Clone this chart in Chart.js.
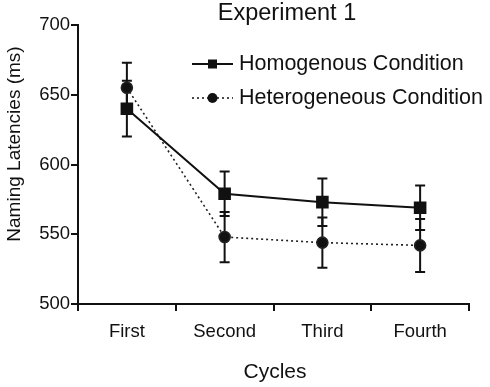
<!DOCTYPE html>
<html>
<head>
<meta charset="utf-8">
<script src="https://cdn.jsdelivr.net/npm/chart.js@4/dist/chart.umd.min.js"></script>
<style>
  body { margin: 0; background: #fff; }
  canvas { display: block; }
</style>
</head>
<body>
<canvas id="myChart" width="490" height="387"></canvas>
<script>
// values (ms)
const cycles = ['First', 'Second', 'Third', 'Fourth'];
const seriesNames = ['Homogenous Condition', 'Heterogeneous Condition'];
const homogMeans = [640, 579, 573, 569];
const homogErr = [20, 16, 17, 16];
const heteroMeans = [655, 548, 544, 542];
const heteroErr = [18, 18, 18, 19];
const yMin = 500, yMax = 700, yStep = 50;

const ink = '#111';
const font = 'Liberation Sans, Arial, sans-serif';

// error bars, drawn from the same arrays through the y scale
const errorBars = {
  id: 'errorBars',
  beforeDatasetsDraw(chart) {
    const ctx = chart.ctx;
    const y = chart.scales.y;
    const errs = [homogErr, heteroErr];
    chart.data.datasets.forEach((ds, i) => {
      const meta = chart.getDatasetMeta(i);
      meta.data.forEach((pt, j) => {
        const top = y.getPixelForValue(ds.data[j] + errs[i][j]);
        const bot = y.getPixelForValue(ds.data[j] - errs[i][j]);
        ctx.save();
        ctx.strokeStyle = ink;
        ctx.lineWidth = 2;
        ctx.beginPath();
        ctx.moveTo(pt.x, top); ctx.lineTo(pt.x, bot);
        ctx.moveTo(pt.x - 5, top); ctx.lineTo(pt.x + 5, top);
        ctx.moveTo(pt.x - 5, bot); ctx.lineTo(pt.x + 5, bot);
        ctx.stroke();
        ctx.restore();
      });
    });
  }
};

// titles and the legend inside the plot
const labelsPlugin = {
  id: 'labelsPlugin',
  afterDraw(chart) {
    const ctx = chart.ctx;
    ctx.save();
    ctx.fillStyle = ink;
    ctx.textBaseline = 'middle';

    ctx.font = '23.5px ' + font;
    ctx.textAlign = 'center';
    ctx.fillText('Experiment 1', 287, 14);

    ctx.font = '21px ' + font;
    ctx.fillText('Cycles', 275, 372);

    ctx.save();
    ctx.translate(15, 144);
    ctx.rotate(-Math.PI / 2);
    ctx.font = '19px ' + font;
    ctx.fillText('Naming Latencies (ms)', 0, 0);
    ctx.restore();

    // legend
    ctx.textAlign = 'left';
    ctx.font = '21.5px ' + font;
    ctx.strokeStyle = ink;
    ctx.lineWidth = 2;
    ctx.beginPath(); ctx.moveTo(192, 64); ctx.lineTo(233, 64); ctx.stroke();
    ctx.fillRect(208, 59.5, 9, 9);
    ctx.fillText(seriesNames[0], 239, 64);

    ctx.setLineDash([2, 3]);
    ctx.lineWidth = 1.5;
    ctx.beginPath(); ctx.moveTo(192, 98); ctx.lineTo(233, 98); ctx.stroke();
    ctx.setLineDash([]);
    ctx.beginPath(); ctx.arc(212.5, 98, 5, 0, Math.PI * 2); ctx.fill();
    ctx.fillText(seriesNames[1], 239, 98);
    ctx.restore();
  }
};

const ctx = document.getElementById('myChart');

new Chart(ctx, {
  type: 'line',
  data: {
    labels: cycles,
    datasets: [{
      label: seriesNames[0],
      data: homogMeans,
      borderColor: ink,
      backgroundColor: ink,
      borderWidth: 2,
      pointStyle: 'rect',
      pointRadius: 7.5,
      tension: 0
    }, {
      label: seriesNames[1],
      data: heteroMeans,
      borderColor: '#222',
      backgroundColor: ink,
      borderWidth: 1.6,
      borderDash: [2, 3],
      pointStyle: 'circle',
      pointRadius: 5.5,
      tension: 0
    }]
  },
  options: {
    responsive: false,
    animation: false,
    layout: { padding: { top: 25, right: 21, left: 0, bottom: 0 } },
    plugins: {
      legend: { display: false },
      tooltip: { enabled: false }
    },
    scales: {
      x: {
        offset: true,
        grid: { offset: true, drawOnChartArea: false, tickLength: 7, color: ink, lineWidth: 2 },
        border: { color: ink, width: 2 },
        ticks: { color: ink, padding: 10, font: { family: font, size: 18.5 } },
        afterFit(scale) { scale.height = 83; }
      },
      y: {
        min: yMin,
        max: yMax,
        grid: { drawOnChartArea: false, tickLength: 7, color: ink, lineWidth: 2 },
        border: { color: ink, width: 2 },
        ticks: { stepSize: yStep, color: ink, padding: 1, font: { family: font, size: 18.5 } },
        afterFit(scale) { scale.width = 78; }
      }
    }
  },
  plugins: [errorBars, labelsPlugin]
});
</script>
</body>
</html>
